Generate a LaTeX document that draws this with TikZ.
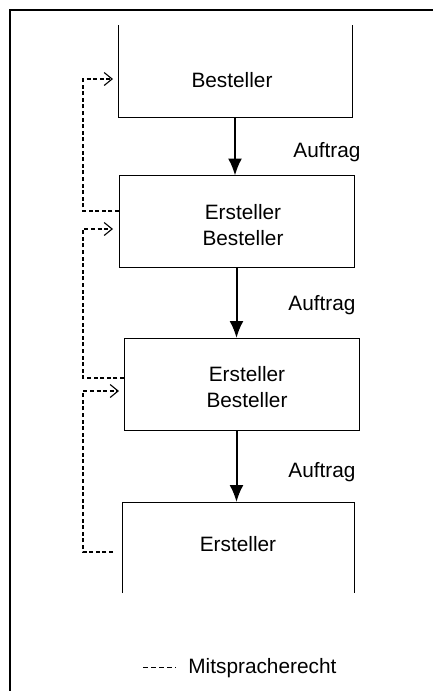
\documentclass[tikz,border=0pt]{standalone}
\usepackage{fontspec}
\setmainfont{Liberation Sans}
\usetikzlibrary{arrows.meta}
\begin{document}
\begin{tikzpicture}[x=0.5pt,y=-0.5pt,font=\fontsize{10.4}{13}\selectfont]
      \tikzstyle{box}=[draw,line width=0.5pt,minimum width=117.5pt,minimum height=46pt,inner sep=0pt,outer sep=0pt]
      \tikzstyle{openbox}=[box,draw=none]
      \tikzstyle{txt}=[anchor=base,align=center,inner sep=0pt]
      \tikzstyle{edge}=[draw,line width=1pt,-{Latex[length=8.5pt,width=7pt]}]
      \tikzstyle{say}=[draw,line width=0.55pt,dash pattern=on 2pt off 1.3pt,-{Straight Barb[length=4pt,width=6.5pt]}]
      \useasboundingbox (0,0) rectangle (433,691);
      \path[draw,line width=0.6pt] (433,10) -- (10,10) -- (10,691);
      \node[openbox,minimum width=117pt] (B1) at (235,71) {};
      \node[box] (B2) at (236.5,221.5) {};
      \node[box] (B3) at (241.5,384) {};
      \node[openbox,minimum width=116pt,minimum height=45.5pt] (B4) at (238,547.5) {};
      \path[draw,line width=0.5pt] (B1.north west) -- (B1.south west) -- (B1.south east) -- (B1.north east);
      \path[draw,line width=0.5pt] (B4.south west) -- (B4.north west) -- (B4.north east) -- (B4.south east);
      \node[txt] (T1) at (232,87) {Besteller};
      \node[txt] (T2) at (243,245) {Ersteller\\Besteller};
      \node[txt] (T3) at (247,407) {Ersteller\\Besteller};
      \node[txt] (T4) at (238,551) {Ersteller};
      \path[edge] (B1.south) -- (B1.south |- B2.north);
      \path[edge] (B2.south) -- (B2.south |- B3.north);
      \path[edge] (B3.south -| B2.south) -- (B2.south |- B4.north);
      \node[txt] (A1) at (327,157) {Auftrag};
      \node[txt] (A2) at (322,310) {Auftrag};
      \node[txt] (A3) at (322,477) {Auftrag};
      \coordinate (in1) at (113,79);
      \coordinate (in2) at (113,229);
      \coordinate (in3) at (119,391);
      \coordinate (out3) at (113,552);
      \path[say] (B2.west |- 0,211) -| (83,79) -- (in1);
      \path[say] (B3.west |- 0,378) -| (83,229) -- (in2);
      \path[say] (out3) -| (83,391) -- (in3);
      \coordinate (k1) at (143,667);
      \coordinate (k2) at (176,667);
      \path[draw,line width=0.5pt,dash pattern=on 2.5pt off 1.5pt] (k1) -- (k2);
      \node[anchor=base west,inner sep=0pt] (L) at (188,673) {Mitspracherecht};
    \end{tikzpicture}
\end{document}
